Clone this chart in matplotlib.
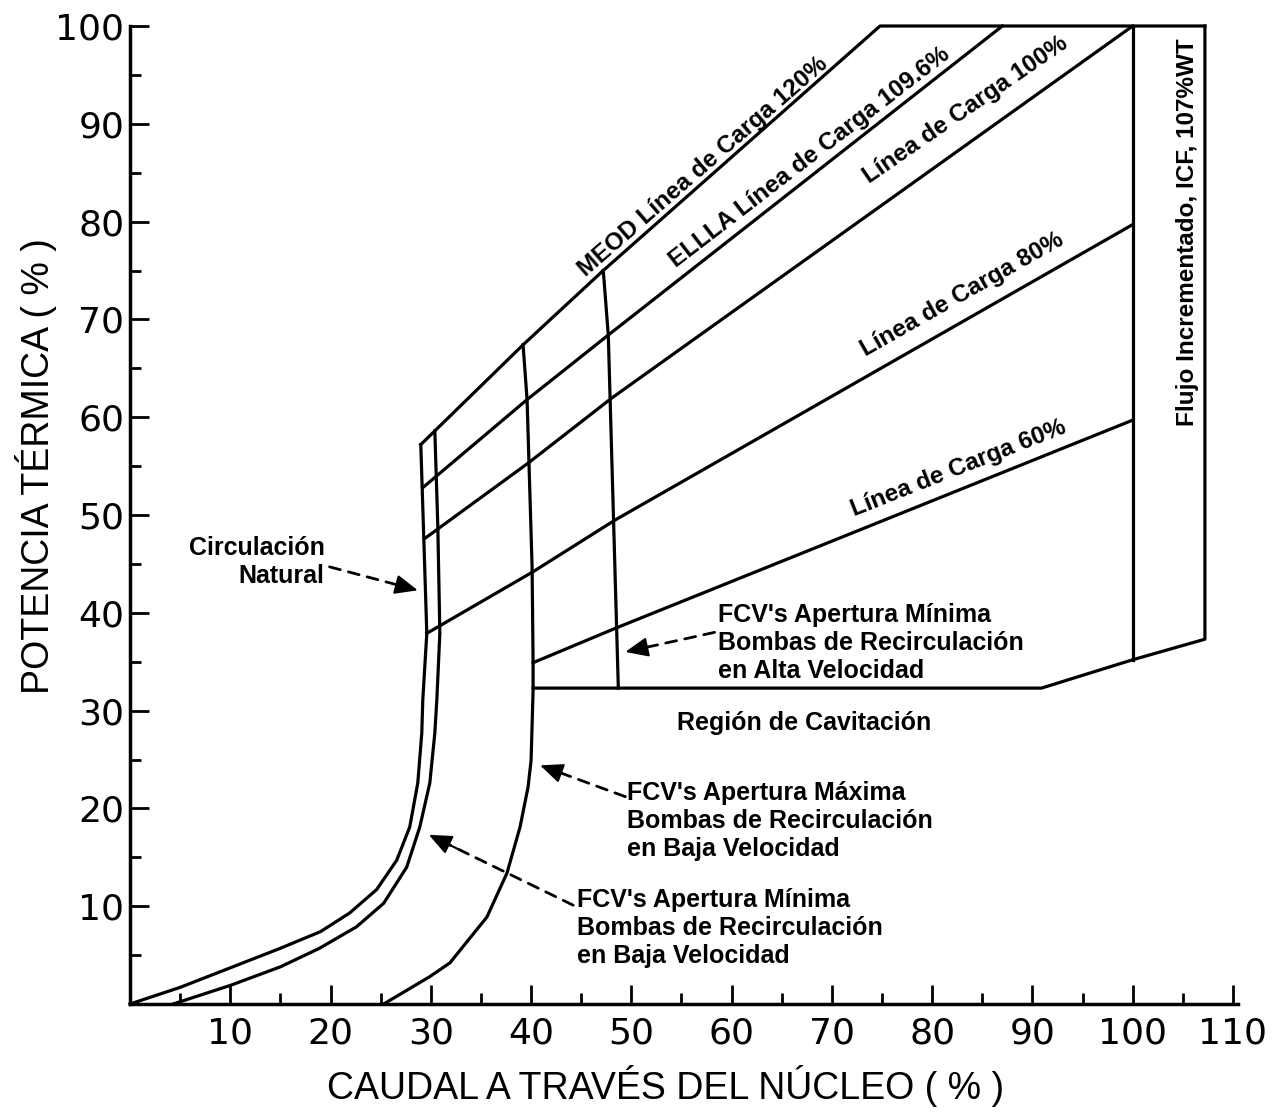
import matplotlib
matplotlib.use('Agg')
import matplotlib.pyplot as plt

plt.rcParams['font.family'] = ['Liberation Sans', 'DejaVu Sans']

# --- data ---
# natural circulation boundary
nat_x = [0, 5.0, 10.0, 15.0, 19.0, 21.9, 24.6, 26.6, 27.9, 28.7, 29.1, 29.2, 29.6, 29.3, 29.0]
nat_y = [0, 1.7, 3.7, 5.7, 7.4, 9.3, 11.7, 14.7, 18.1, 22.6, 27.7, 31.1, 37.9, 47.6, 57.2]

# FCV minimum position, low speed pumps
min_low_x = [4.3, 10.0, 15.0, 18.9, 22.6, 25.3, 27.6, 28.9, 29.9, 30.4, 30.6, 30.9, 30.7, 30.4]
min_low_y = [0, 1.9, 3.8, 5.7, 7.9, 10.3, 14.0, 18.1, 22.6, 27.7, 31.1, 37.9, 48.8, 58.6]

# FCV maximum position, low speed pumps
max_low_x = [25.3, 29.9, 31.9, 35.6, 37.6, 38.9, 39.7, 40.0, 40.2, 40.2, 40.1, 39.6, 39.2]
max_low_y = [0, 2.8, 4.2, 8.9, 13.4, 18.1, 22.2, 24.9, 32.1, 34.9, 44.7, 61.8, 67.4]

# FCV minimum position, high speed pumps
min_high_x = [48.7, 47.7, 47.2]
min_high_y = [32.3, 68.4, 75.0]

# rod lines
meod_x = [29.0, 39.2, 47.2, 74.8, 107.2]
meod_y = [57.2, 67.4, 75.0, 100, 100]
ellla_x = [29.2, 39.6, 47.7, 87.0]
ellla_y = [52.8, 61.8, 68.4, 100]
load100_x = [29.4, 39.7, 48.1, 100]
load100_y = [47.6, 55.3, 62.0, 100]
load80_x = [29.6, 40.2, 48.4, 100]
load80_y = [37.9, 44.2, 49.5, 79.7]
load60_x = [40.2, 48.6, 100]
load60_y = [34.9, 38.5, 59.7]

# cavitation boundary and ICF edge
cav_x = [40.2, 90.9, 100, 107.2, 107.2]
cav_y = [32.3, 32.3, 35.2, 37.3, 100]
flow100_x = [100, 100]
flow100_y = [35.2, 100]

x_ticks = [10, 20, 30, 40, 50, 60, 70, 80, 90, 100, 110]
y_ticks = [10, 20, 30, 40, 50, 60, 70, 80, 90, 100]

# rotated labels along the lines: (text, x, y, angle)
line_labels = [
    ("MEOD Línea de Carga 120%", 57.1, 85.6, 41),
    ("ELLLA Línea de Carga 109.6%", 67.8, 86.6, 37.5),
    ("Línea de Carga 100%", 83.3, 91.4, 34.5),
    ("Línea de Carga 80%", 83.0, 72.5, 29.5),
    ("Línea de Carga 60%", 82.6, 54.8, 21.5),
]

# callouts: (text, text x, text y, alignment, arrow start, arrow tip)
callouts = [
    ("Circulación\nNatural", 19.4, 45.2, 'right', (19.9, 44.7), (28.7, 42.3)),
    ("FCV's Apertura Mínima\nBombas de Recirculación\nen Alta Velocidad", 58.6, 36.9, 'left',
     (58.3, 38.0), (49.4, 36.0)),
    ("FCV's Apertura Máxima\nBombas de Recirculación\nen Baja Velocidad", 49.6, 18.7, 'left',
     (49.4, 21.2), (40.9, 24.4)),
    ("FCV's Apertura Mínima\nBombas de Recirculación\nen Baja Velocidad", 44.6, 7.8, 'left',
     (44.2, 10.1), (29.8, 17.3)),
]

fig = plt.figure(figsize=(12.79, 11.19), dpi=100)
ax = fig.add_axes([130 / 1279, 115 / 1119, 1108 / 1279, 978 / 1119])

lw = 2.3
for xs, ys in [(nat_x, nat_y), (min_low_x, min_low_y), (max_low_x, max_low_y),
               (min_high_x, min_high_y), (meod_x, meod_y), (ellla_x, ellla_y),
               (load100_x, load100_y), (load80_x, load80_y), (load60_x, load60_y),
               (cav_x, cav_y), (flow100_x, flow100_y)]:
    ax.plot(xs, ys, color='black', lw=lw, solid_joinstyle='round', clip_on=False)

for text, x, y, ang in line_labels:
    ax.text(x, y, text, rotation=ang, ha='center', va='center', fontsize=17.5,
            fontweight='bold', rotation_mode='anchor')

ax.text(105.5, 78.9, "Flujo Incrementado, ICF, 107%WT", rotation=90, ha='center',
        va='center', fontsize=17.5, fontweight='bold')
ax.text(67.2, 28.7, "Región de Cavitación", ha='center', va='center', fontsize=18,
        fontweight='bold')

for text, tx, ty, ha, start, tip in callouts:
    ax.text(tx, ty, text, ha=ha, va='center', fontsize=18, fontweight='bold',
            linespacing=1.2)
    ax.annotate('', xy=tip, xytext=start,
                arrowprops=dict(arrowstyle='-', ls=(0, (4, 3)), lw=2, color='black',
                                shrinkA=0, shrinkB=6))
    back = (tip[0] + 0.2 * (start[0] - tip[0]), tip[1] + 0.2 * (start[1] - tip[1]))
    ax.annotate('', xy=tip, xytext=back,
                arrowprops=dict(arrowstyle='-|>,head_length=0.7,head_width=0.3', lw=1.5,
                                color='black', shrinkA=0, shrinkB=0, mutation_scale=20))

ax.set_xlim(0, 110.5)
ax.set_ylim(0, 100)
ax.set_xticks(x_ticks)
ax.set_xticks([t - 5 for t in x_ticks], minor=True)
ax.set_yticks(y_ticks)
ax.set_yticks([t - 5 for t in y_ticks], minor=True)
ax.tick_params(which='major', direction='in', length=14, width=2, labelsize=26)
ax.tick_params(which='minor', direction='in', length=8, width=2)
ax.tick_params(axis='y', pad=4)
ax.tick_params(axis='x', pad=9)
for lab in ax.get_xticklabels() + ax.get_yticklabels():
    lab.set_fontfamily('DejaVu Sans')

for side in ['top', 'right']:
    ax.spines[side].set_visible(False)
for side in ['left', 'bottom']:
    ax.spines[side].set_linewidth(2.5)

ax.set_xlabel("CAUDAL A TRAVÉS DEL NÚCLEO ( % )", fontsize=27)
ax.set_ylabel("POTENCIA TÉRMICA ( % )", fontsize=27)
ax.xaxis.set_label_coords(0.483, -0.062)
ax.yaxis.set_label_coords(-0.066, 0.55)

plt.savefig('out.png', dpi=100)
plt.close(fig)
